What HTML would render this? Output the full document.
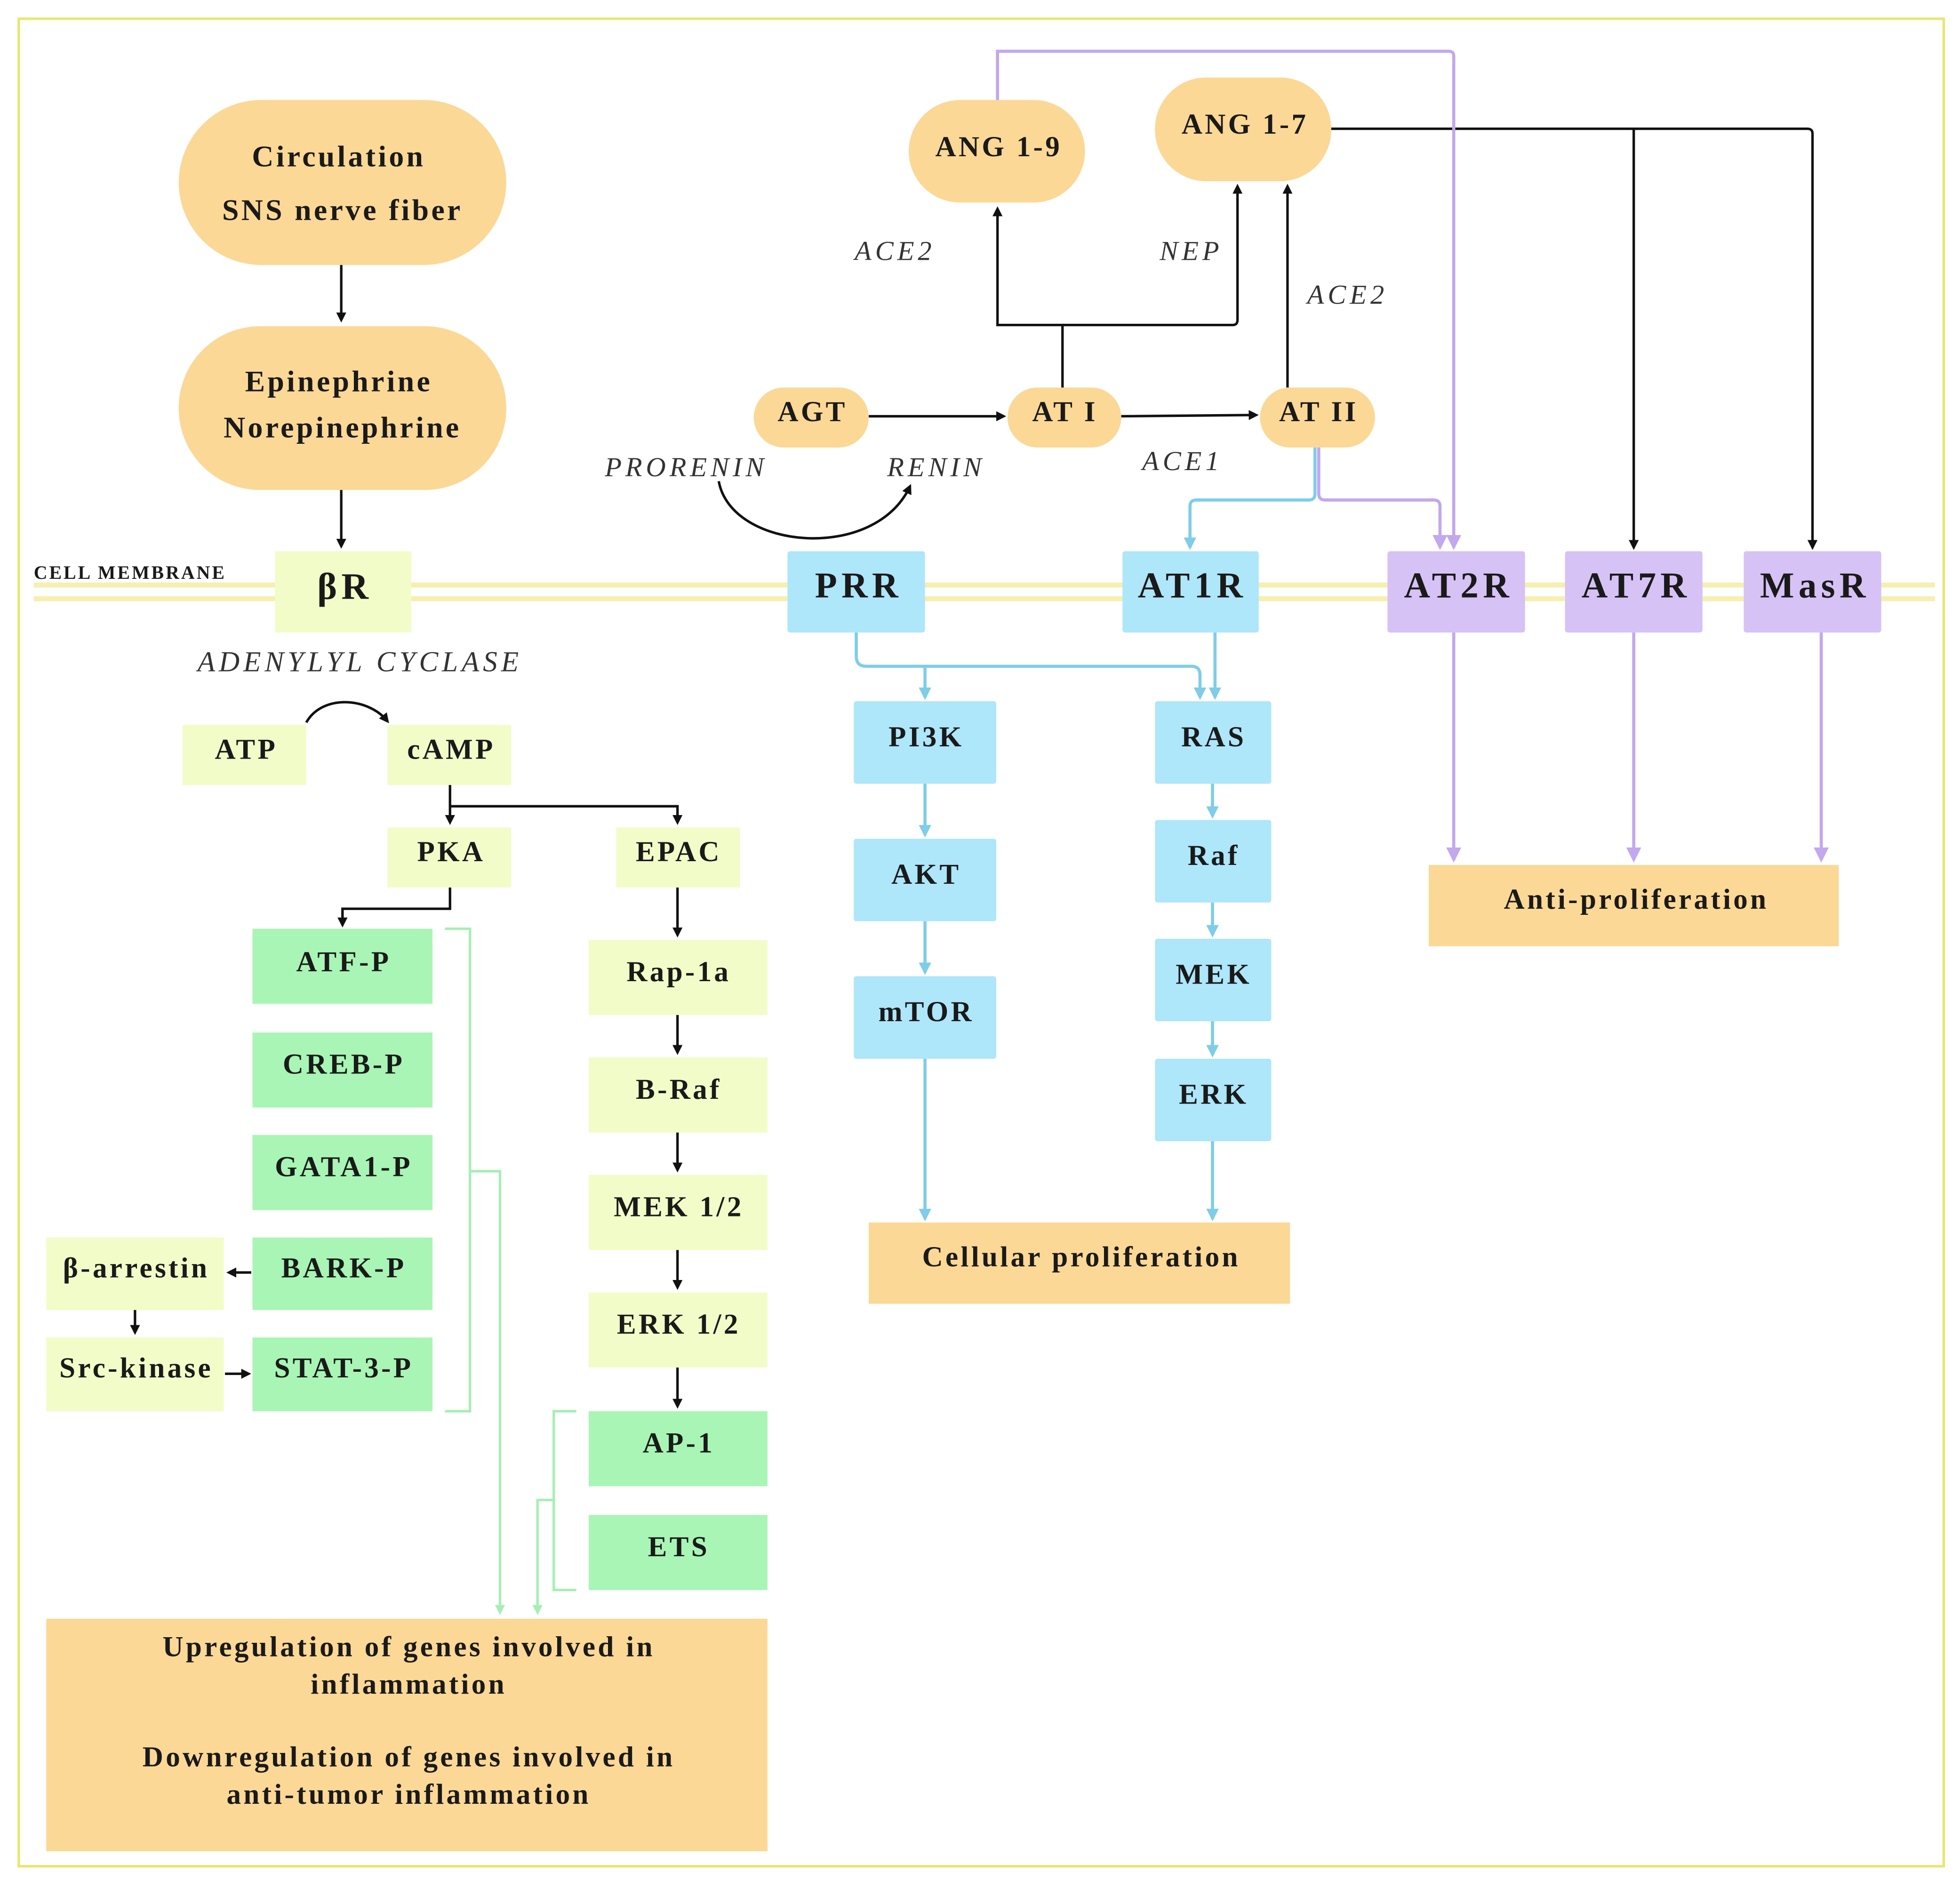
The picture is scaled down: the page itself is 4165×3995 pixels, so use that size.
<!DOCTYPE html>
<html><head><meta charset="utf-8"><style>
html,body{margin:0;padding:0;background:#fff;}
svg{display:block;}
text{font-family:"Liberation Serif",serif;font-weight:bold;fill:#1a1a1a;letter-spacing:2px;}
.i{font-style:italic;font-weight:normal;fill:#333;letter-spacing:3px;}
.r{letter-spacing:3.5px;}
</style></head><body>
<svg width="4165" height="3995" viewBox="0 0 1568 1504" xmlns="http://www.w3.org/2000/svg">
<defs>
<marker id="k" markerWidth="8" markerHeight="8" refX="6" refY="4" orient="auto" markerUnits="userSpaceOnUse"><path d="M0,0 L8,4 L0,8 Z" fill="#111"/></marker>
<marker id="b" markerWidth="10" markerHeight="10" refX="8" refY="5" orient="auto" markerUnits="userSpaceOnUse"><path d="M0,0 L10,5 L0,10 Z" fill="#7fcde8"/></marker>
<marker id="p" markerWidth="12" markerHeight="12" refX="10" refY="6" orient="auto" markerUnits="userSpaceOnUse"><path d="M0,0 L12,6 L0,12 Z" fill="#c2a8ec"/></marker>
<marker id="g" markerWidth="8" markerHeight="8" refX="6" refY="4" orient="auto" markerUnits="userSpaceOnUse"><path d="M0,0 L8,4 L0,8 Z" fill="#a6eeb4"/></marker>
</defs>
<rect width="1568" height="1504" fill="#fff"/>
<rect x="15" y="15" width="1540" height="1478" fill="none" stroke="#e6e66e" stroke-width="2"/>
<line x1="27" y1="468" x2="1548" y2="468" stroke="#f7efb0" stroke-width="4"/>
<line x1="27" y1="479" x2="1548" y2="479" stroke="#f7efb0" stroke-width="4"/>
<text x="27" y="463" font-size="15" style="letter-spacing:1.5px">CELL MEMBRANE</text>

<rect x="143" y="80" width="262" height="132" rx="66" fill="#fcd896"/>
<text x="271" y="133" font-size="24" text-anchor="middle">Circulation</text>
<text x="274" y="176" font-size="24" text-anchor="middle">SNS nerve fiber</text>
<line x1="273" y1="212" x2="273" y2="256" stroke="#111" stroke-width="2" marker-end="url(#k)"/>
<rect x="143" y="261" width="262" height="131" rx="65" fill="#fcd896"/>
<text x="271" y="313" font-size="24" text-anchor="middle">Epinephrine</text>
<text x="274" y="350" font-size="24" text-anchor="middle">Norepinephrine</text>
<line x1="273" y1="392" x2="273" y2="437" stroke="#111" stroke-width="2" marker-end="url(#k)"/>
<rect x="220" y="441" width="109" height="65" fill="#f2fcc8"/>
<text class="r" x="276" y="479" font-size="30" text-anchor="middle">βR</text>
<text class="i" x="158" y="537" font-size="23">ADENYLYL CYCLASE</text>

<g fill="#f2fcc8">
<rect x="146" y="580" width="99" height="48"/><rect x="310" y="580" width="99" height="48"/>
<rect x="310" y="662" width="99" height="48"/><rect x="493" y="662" width="99" height="48"/>
<rect x="37" y="990" width="142" height="58"/><rect x="37" y="1070" width="142" height="59"/>
<rect x="471" y="752" width="143" height="60"/><rect x="471" y="846" width="143" height="60"/>
<rect x="471" y="940" width="143" height="60"/><rect x="471" y="1034" width="143" height="60"/>
</g>
<g fill="#a8f5b5">
<rect x="202" y="743" width="144" height="60"/><rect x="202" y="826" width="144" height="60"/>
<rect x="202" y="908" width="144" height="60"/><rect x="202" y="990" width="144" height="58"/>
<rect x="202" y="1070" width="144" height="59"/>
<rect x="471" y="1129" width="143" height="60"/><rect x="471" y="1212" width="143" height="60"/>
</g>
<g font-size="23" text-anchor="middle">
<text x="197" y="607">ATP</text><text x="361" y="607">cAMP</text>
<text x="361" y="689">PKA</text><text x="543" y="689">EPAC</text>
<text x="275" y="777">ATF-P</text><text x="275" y="859">CREB-P</text>
<text x="275" y="941">GATA1-P</text><text x="275" y="1022">BARK-P</text>
<text x="275" y="1102">STAT-3-P</text>
<text x="109" y="1022">β-arrestin</text><text x="109" y="1102">Src-kinase</text>
<text x="543" y="785">Rap-1a</text><text x="543" y="879">B-Raf</text>
<text x="543" y="973">MEK 1/2</text><text x="543" y="1067">ERK 1/2</text>
<text x="543" y="1162">AP-1</text><text x="543" y="1245">ETS</text>
</g>
<g stroke="#111" stroke-width="2" fill="none" marker-end="url(#k)">
<path d="M245,578 C258,555 295,558 310,577"/>
<path d="M360,628 V658"/>
<path d="M360,645 H542 V658"/>
<path d="M360,710 V727 H274 V740"/>
<path d="M201,1018 H183"/>
<path d="M108,1048 V1066"/>
<path d="M180,1099 H199"/>
<path d="M542,710 V748"/><path d="M542,812 V842"/><path d="M542,906 V936"/>
<path d="M542,1000 V1030"/><path d="M542,1094 V1125"/>
</g>
<g stroke="#a6eeb4" stroke-width="2" fill="none">
<path d="M356,743 H376 V1129 H356"/>
<path d="M376,937 H400 V1290" marker-end="url(#g)"/>
<path d="M461,1129 H443 V1272 H461"/>
<path d="M443,1200 H430 V1290" marker-end="url(#g)"/>
</g>
<rect x="37" y="1295" width="577" height="186" fill="#fcd896"/>
<g font-size="23" text-anchor="middle">
<text x="327" y="1325">Upregulation of genes involved in</text>
<text x="327" y="1355">inflammation</text>
<text x="327" y="1413">Downregulation of genes involved in</text>
<text x="327" y="1443">anti-tumor inflammation</text>
</g>

<g fill="#fcd896">
<rect x="727" y="80" width="141" height="82" rx="41"/>
<rect x="924" y="62" width="141" height="83" rx="41"/>
<rect x="603" y="310" width="92" height="48" rx="24"/>
<rect x="806" y="310" width="91" height="48" rx="24"/>
<rect x="1008" y="310" width="92" height="48" rx="24"/>
<rect x="695" y="978" width="337" height="65"/>
<rect x="1143" y="692" width="328" height="65"/>
</g>
<g font-size="23" text-anchor="middle">
<text x="799" y="125">ANG 1-9</text><text x="996" y="107">ANG 1-7</text>
<text x="650" y="337">AGT</text><text x="852" y="337">AT I</text><text x="1055" y="337">AT II</text>
<text x="865" y="1013">Cellular proliferation</text>
<text x="1309" y="727">Anti-proliferation</text>
</g>
<g font-size="22" text-anchor="middle">
<text class="i" x="716" y="208">ACE2</text><text class="i" x="953" y="208">NEP</text>
<text class="i" x="1078" y="243">ACE2</text><text class="i" x="946" y="376">ACE1</text>
<text class="i" x="549" y="381">PRORENIN</text><text class="i" x="749" y="381">RENIN</text>
</g>
<g stroke="#111" stroke-width="2" fill="none" marker-end="url(#k)">
<path d="M695,333 H803"/><path d="M897,333 L1005,332"/>
<path d="M850,310 V260 H798 V167"/>
<path d="M850,260 H986 Q990,260 990,256 V149"/>
<path d="M1030,310 V149"/>
<path d="M1065,103 H1446 Q1450,103 1450,107 V438"/>
<path d="M1307,103 V438"/>
<path d="M575,385 C585,440 700,450 728,389"/>
</g>
<g fill="#aee6fa">
<rect x="630" y="441" width="110" height="65" rx="2"/><rect x="898" y="441" width="109" height="65" rx="2"/>
<rect x="683" y="561" width="114" height="66" rx="2"/><rect x="683" y="671" width="114" height="66" rx="2"/>
<rect x="683" y="781" width="114" height="66" rx="2"/>
<rect x="924" y="561" width="93" height="66" rx="2"/><rect x="924" y="656" width="93" height="66" rx="2"/>
<rect x="924" y="751" width="93" height="66" rx="2"/><rect x="924" y="847" width="93" height="66" rx="2"/>
</g>
<g fill="#d6c2f5">
<rect x="1110" y="441" width="110" height="65" rx="2"/><rect x="1252" y="441" width="110" height="65" rx="2"/>
<rect x="1395" y="441" width="110" height="65" rx="2"/>
</g>
<g font-size="29" text-anchor="middle">
<text class="r" x="687" y="478">PRR</text><text class="r" x="954" y="478">AT1R</text>
<text class="r" x="1167" y="478">AT2R</text><text class="r" x="1309" y="478">AT7R</text><text class="r" x="1452" y="478">MasR</text>
</g>
<g font-size="23" text-anchor="middle">
<text x="741" y="597">PI3K</text><text x="741" y="707">AKT</text><text x="741" y="817">mTOR</text>
<text x="971" y="597">RAS</text><text x="971" y="692">Raf</text>
<text x="971" y="787">MEK</text><text x="971" y="883">ERK</text>
</g>
<g stroke="#7fcde8" stroke-width="2.5" fill="none" marker-end="url(#b)">
<path d="M1052,358 V395 Q1052,400 1047,400 H957 Q952,400 952,405 V438"/>
<path d="M685,506 V525 Q685,533 693,533 H953 Q960,533 960,540 V558"/>
<path d="M740,533 V558"/>
<path d="M972,506 V558"/>
<path d="M740,627 V668"/><path d="M740,737 V778"/><path d="M740,847 V975"/>
<path d="M970,627 V653"/><path d="M970,722 V748"/><path d="M970,817 V844"/><path d="M970,913 V975"/>
</g>
<g stroke="#c2a8ec" stroke-width="2.5" fill="none" marker-end="url(#p)">
<path d="M1055,358 V395 Q1055,400 1060,400 H1147 Q1152,400 1152,405 V438"/>
<path d="M798,80 V41 H1159 Q1163,41 1163,45 V438"/>
<path d="M1163,506 V688"/><path d="M1307,506 V688"/><path d="M1457,506 V688"/>
</g>
</svg>
</body></html>
